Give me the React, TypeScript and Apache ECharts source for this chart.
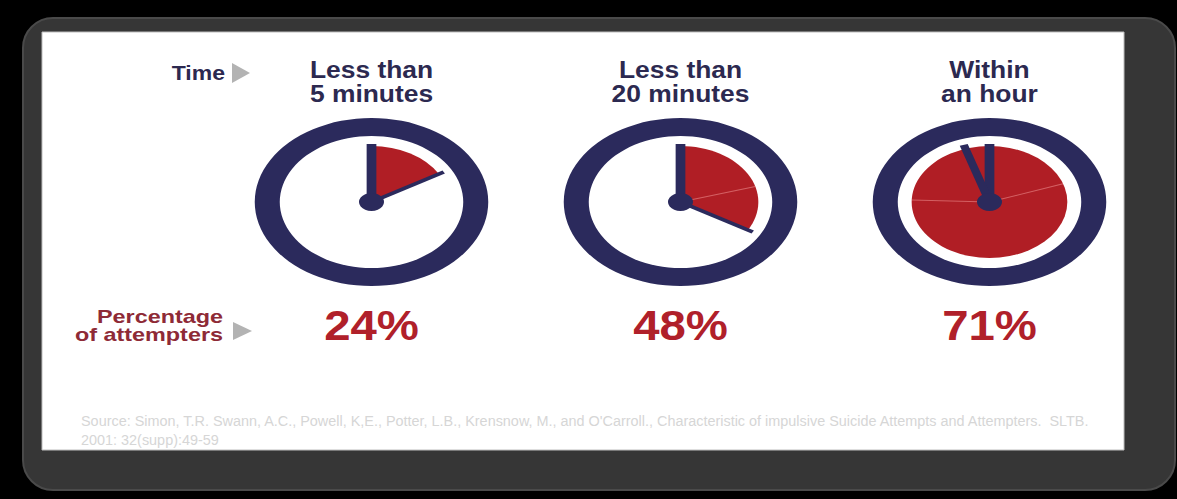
import React, { useEffect, useRef } from "react";
import * as echarts from "echarts";

// ---- data ----
const categories = ["Less than\n5 minutes", "Less than\n20 minutes", "Within\nan hour"];
const percentages = [24, 48, 71];
const wedgeDegrees = [60, 120, 360];
const secondHandDegrees = [60, 120, -18];
const sliceDividers = [[], [74], [71, 272]];
const sourceLines = [
  "Source: Simon, T.R. Swann, A.C., Powell, K,E., Potter, L.B., Krensnow, M., and O'Carroll., Characteristic of impulsive Suicide Attempts and Attempters.  SLTB.",
  "2001: 32(supp):49-59",
];
const rowLabels = ["Time", "Percentage\nof attempters"];

// ---- style ----
const NAVY = "#2b2a5c";
const RED = "#b01e25";
const PCT_RED = "#b0202a";
const LABEL_RED = "#8e2a36";
const CLOCK_Y = 202;
const SX = 1.39;
const FONT = "'Liberation Sans', Arial, sans-serif";

export default function App() {
  const ref = useRef<HTMLDivElement>(null);

  useEffect(() => {
    if (!ref.current) return;
    const chart = echarts.init(ref.current, null, { renderer: "svg" });

    const renderItem = (params: any, api: any) => {
      const i = api.value(0);
      const pt = api.coord([i, CLOCK_Y]);
      const cx = pt[0];
      const cy = pt[1];
      const deg = wedgeDegrees[i];
      const rad = (d: number) => (d * Math.PI) / 180;
      const children: any[] = [];
      children.push({ type: "circle", shape: { cx: 0, cy: 0, r: 84 }, style: { fill: NAVY } });
      children.push({ type: "circle", shape: { cx: 0, cy: 0, r: 66 }, style: { fill: "#fff" } });
      if (deg >= 360) {
        children.push({ type: "circle", shape: { cx: 0, cy: 0, r: 56 }, style: { fill: RED } });
      } else {
        children.push({
          type: "sector",
          shape: { cx: 0, cy: 0, r0: 0, r: 56, startAngle: -Math.PI / 2, endAngle: -Math.PI / 2 + rad(deg), clockwise: true },
          style: { fill: RED },
        });
      }
      sliceDividers[i].forEach((a) => {
        children.push({
          type: "line",
          shape: { x1: 0, y1: 0, x2: 56 * Math.sin(rad(a)), y2: -56 * Math.cos(rad(a)) },
          style: { stroke: "rgba(240,150,150,0.55)", lineWidth: 1 },
        });
      });
      // minute hand at 12
      children.push({
        type: "line",
        shape: { x1: 0, y1: 0, x2: 0, y2: -58 },
        style: { stroke: NAVY, lineWidth: 7, lineCap: "butt" },
      });
      const sa = rad(secondHandDegrees[i]);
      children.push({
        type: "line",
        shape: { x1: 0, y1: 0, x2: 60 * Math.sin(sa), y2: -60 * Math.cos(sa) },
        style: { stroke: NAVY, lineWidth: deg >= 360 ? 6 : 3.5, lineCap: "butt" },
      });
      children.push({ type: "circle", shape: { cx: 0, cy: 0, r: 9 }, style: { fill: NAVY } });

      return {
        type: "group",
        children: [
          { type: "group", x: cx, y: cy, scaleX: SX, children },
          {
            type: "text",
            x: cx,
            y: 57,
            scaleX: 1.1,
            style: {
              text: categories[i],
              fill: "#2c2950",
              font: `bold 24px ${FONT}`,
              lineHeight: 24,
              align: "center",
              verticalAlign: "top",
            },
          },
          {
            type: "text",
            x: cx,
            y: 325,
            scaleX: 1.1,
            style: {
              text: `${percentages[i]}%`,
              fill: PCT_RED,
              font: `bold 43px ${FONT}`,
              align: "center",
              verticalAlign: "middle",
            },
          },
        ],
      };
    };

    chart.setOption({
      animation: false,
      backgroundColor: "#000",
      grid: { left: 217, right: 33, top: 0, bottom: 0 },
      xAxis: { type: "category", data: categories, show: false },
      yAxis: { type: "value", min: 0, max: 499, inverse: true, show: false },
      graphic: [
        {
          type: "rect",
          z: -10,
          shape: { x: 23, y: 18, width: 1152, height: 472, r: 30 },
          style: {
            fill: "#363636",
            stroke: "#4a4a4a",
            lineWidth: 2,
          },
        },
        {
          type: "rect",
          z: -9,
          shape: { x: 42, y: 32, width: 1082, height: 418 },
          style: { fill: "#ffffff", stroke: "#bdbdbd", lineWidth: 1 },
        },
        {
          type: "text",
          x: 225,
          y: 73,
          scaleX: 1.15,
          style: {
            text: rowLabels[0],
            fill: "#2c2950",
            font: `bold 20px ${FONT}`,
            align: "right",
            verticalAlign: "middle",
          },
        },
        {
          type: "polygon",
          shape: { points: [[232, 63], [250, 73], [232, 83]] },
          style: { fill: "#b3b3b3" },
        },
        {
          type: "text",
          x: 223,
          y: 326,
          scaleX: 1.3,
          style: {
            text: rowLabels[1],
            fill: LABEL_RED,
            font: `bold 18px ${FONT}`,
            lineHeight: 18,
            align: "right",
            verticalAlign: "middle",
          },
        },
        {
          type: "polygon",
          shape: { points: [[233, 322], [252, 331], [233, 340]] },
          style: { fill: "#b3b3b3" },
        },
        {
          type: "text",
          x: 81,
          y: 412,
          scaleX: 1.03,
          style: {
            text: sourceLines.join("\n"),
            fill: "#d6d6d6",
            font: `14px 'Liberation Sans Narrow', 'Liberation Sans', sans-serif`,
            lineHeight: 19,
            align: "left",
            verticalAlign: "top",
          },
        },
      ],
      series: [
        {
          type: "custom",
          renderItem,
          data: categories.map((_, i) => [i, percentages[i]]),
          silent: true,
        },
      ],
    });

    return () => chart.dispose();
  }, []);

  return (
    <div
      ref={ref}
      style={{ position: "fixed", left: 0, top: 0, width: "1177px", height: "499px" }}
    />
  );
}
